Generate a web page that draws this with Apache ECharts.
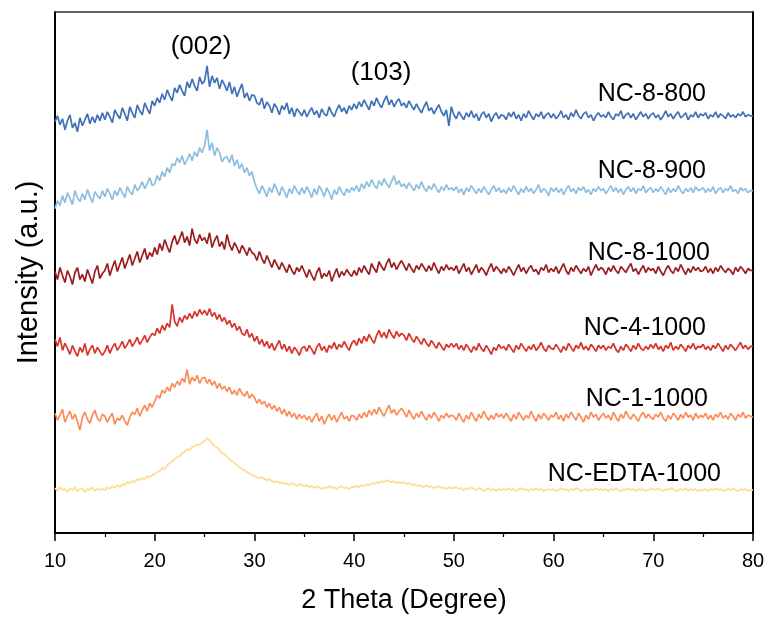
<!DOCTYPE html>
<html><head><meta charset="utf-8">
<script src="https://cdn.jsdelivr.net/npm/echarts@6/dist/echarts.min.js"></script>
<style>html,body{margin:0;padding:0;background:#fff}#c{width:769px;height:619px}</style>
</head><body><div id="c"></div>
<script>
// 2θ scan: start 10°, step 0.25°, 281 points to 80°
const thetaStart = 10, thetaStep = 0.25;
const xTicks = [10,20,30,40,50,60,70,80];
const seriesNames = ["NC-8-800","NC-8-900","NC-8-1000","NC-4-1000","NC-1-1000","NC-EDTA-1000"];
const peakLabels = ["(002)","(103)"];

const nc8_800 = [
412,418,409,415,404,413,419,406,411,402,416,408,414,420,410,417,411,419,413,421,
414,422,417,411,424,419,415,426,420,413,427,421,416,429,423,419,431,425,420,433,
428,436,431,440,434,444,438,433,446,441,449,443,438,452,446,455,448,443,457,450,
453,468,447,458,451,456,445,454,449,443,452,440,447,437,444,450,436,441,433,439,
438,431,429,436,425,432,428,421,430,426,419,428,424,431,420,426,417,425,422,418,
424,417,422,426,419,423,416,425,420,418,427,421,417,424,429,422,426,420,428,424,
430,425,432,427,434,429,424,433,428,436,430,426,433,438,429,434,427,432,435,428,
431,426,433,428,424,430,425,421,427,432,423,426,420,425,429,422,418,424,408,427,
419,415,422,418,414,421,417,423,416,420,413,419,422,416,420,412,418,421,415,419,
418,414,421,417,422,415,419,413,420,416,423,418,414,420,417,422,415,419,421,416,
420,415,418,423,416,419,414,421,417,424,418,415,420,422,416,419,413,418,421,417,
419,416,422,417,414,420,418,423,415,419,421,416,420,414,418,422,417,420,415,419,
421,416,419,414,418,423,417,420,415,419,422,416,418,421,414,419,417,422,416,420,
418,421,415,419,417,422,416,420,418,415,421,417,419,416,420,418,422,417,419,418,
418];

const nc8_900 = [
325,333,328,338,331,341,335,329,343,336,332,340,334,344,337,331,342,338,335,343,
337,345,340,334,343,338,346,341,336,347,342,339,349,343,346,352,345,350,356,348,
350,358,353,362,357,366,361,370,368,376,371,378,369,374,380,373,382,377,386,381,
388,404,383,391,378,386,381,372,376,377,371,379,368,374,365,370,361,366,358,362,
352,345,340,348,343,337,346,341,350,344,338,347,342,336,345,340,348,343,339,346,
340,347,342,336,345,339,348,343,337,346,341,334,344,339,347,342,338,345,341,346,
343,348,342,350,345,352,347,354,349,345,353,348,355,350,346,352,358,349,353,347,
350,345,351,347,343,349,345,352,346,342,348,344,350,345,341,347,343,349,344,346,
343,347,341,345,339,346,342,348,344,340,345,341,347,343,339,344,348,342,346,341,
344,340,346,342,348,343,339,345,341,347,342,345,340,344,349,341,345,343,338,346,
342,346,341,345,339,344,348,342,345,340,346,343,347,341,344,339,345,342,347,343,
345,340,344,348,342,346,341,345,339,344,347,342,346,340,345,343,348,341,344,346,
341,345,342,347,343,339,346,341,345,342,348,343,340,345,342,346,341,347,343,344,
346,341,345,342,347,340,344,346,341,345,343,348,342,344,340,346,343,345,341,343,
343];

const nc8_1000 = [
262,254,266,258,251,263,257,249,261,266,254,259,252,264,257,250,262,268,255,260,
263,270,258,266,273,262,269,276,265,272,279,268,275,282,271,278,285,274,281,277,
286,279,290,283,294,287,281,292,298,289,295,302,291,297,288,305,294,290,299,293,
296,290,301,286,293,298,287,292,284,299,289,283,291,286,280,288,284,278,286,281,
279,273,282,275,270,278,272,266,274,269,264,271,266,261,269,263,259,266,262,268,
262,256,264,258,253,261,266,255,260,257,263,252,259,265,256,262,258,264,260,257,
263,258,266,261,268,263,259,270,265,261,272,267,263,270,275,266,271,264,269,273,
268,263,270,265,261,268,264,270,266,262,268,263,271,265,260,267,263,269,264,266,
263,268,260,265,270,262,266,259,264,269,261,266,263,258,265,270,262,267,264,260,
265,261,267,263,258,264,269,262,266,260,265,268,262,264,259,266,263,269,261,265,
262,267,260,265,270,263,259,266,262,268,264,260,265,262,267,258,264,269,263,266,
264,259,266,262,268,263,260,267,264,261,266,270,262,265,259,264,268,261,266,263,
265,260,267,262,258,264,268,263,260,266,262,269,264,259,265,261,267,263,266,262,
263,267,261,265,260,266,262,268,264,261,265,263,259,266,262,267,264,260,265,263,
263];

const nc4_1000 = [
194,187,196,183,190,185,179,188,182,177,186,181,190,178,184,188,180,186,182,178,
182,188,180,186,190,183,187,192,185,189,194,187,191,196,189,193,198,191,196,200,
198,205,200,208,203,210,206,229,212,207,216,211,218,214,220,215,222,217,224,219,
223,218,225,217,221,214,219,212,216,209,213,206,210,203,207,200,198,204,196,200,
192,197,189,194,187,192,185,190,183,188,193,184,189,182,187,180,186,183,178,185,
187,182,188,184,179,186,190,183,187,181,188,185,191,184,189,186,192,187,183,190,
193,188,195,190,197,192,199,194,190,198,203,196,201,195,204,199,195,202,197,200,
198,193,200,195,191,197,193,189,195,190,187,193,189,185,191,187,183,189,186,190,
186,190,184,188,183,189,185,181,187,183,190,185,182,188,184,179,186,183,189,185,
187,183,189,185,181,188,184,190,186,182,187,184,189,183,186,191,185,182,188,185,
184,189,185,181,187,183,190,186,182,188,185,191,184,187,183,189,186,182,188,185,
188,183,187,185,190,184,181,187,183,189,186,182,188,184,190,185,183,187,184,189,
185,190,184,187,182,188,185,191,183,187,184,189,186,182,188,185,190,184,187,186,
189,184,187,183,188,185,190,186,182,188,184,189,186,183,187,191,185,188,184,187,
187];

const nc1_1000 = [
120,113,118,124,111,117,122,114,119,112,103,116,121,114,110,118,123,115,112,119,
117,111,116,120,109,115,113,118,112,108,116,121,119,125,117,123,128,122,130,126,
132,138,135,143,140,146,142,150,146,152,148,155,151,164,149,156,152,158,150,155,
156,150,154,148,152,145,150,144,147,142,146,139,143,138,145,140,137,142,135,139,
136,130,134,129,132,126,130,124,128,122,126,119,124,117,122,116,120,114,119,115,
118,113,117,111,116,120,112,117,109,115,119,113,118,111,116,121,114,117,112,118,
117,113,119,115,121,116,123,118,124,119,126,121,117,123,128,120,124,118,122,125,
121,116,123,118,114,120,116,122,117,113,119,115,121,117,112,118,115,120,116,118,
117,113,120,115,111,118,114,121,116,112,119,115,122,117,113,118,114,120,116,119,
115,120,116,112,119,114,121,117,113,118,115,122,116,112,119,114,120,117,113,118,
116,121,114,118,112,119,115,121,117,113,120,116,111,118,114,121,116,119,113,117,
120,115,118,113,121,116,112,119,115,122,117,114,119,116,112,118,121,115,119,116,
114,119,116,121,115,112,118,114,120,117,113,119,115,121,116,118,113,120,115,118,
116,120,114,118,113,119,116,121,115,118,114,120,117,113,119,116,121,115,118,117,
116];

const ncEDTA_1000 = [
45,42,46,43,44,41,45,43,46,42,44,45,41,44,43,46,42,45,43,44,
43,46,44,47,45,48,46,49,48,51,50,52,51,54,53,55,54,57,56,58,
59,61,62,65,64,68,70,72,74,76,77,80,81,84,83,86,87,89,88,91,
92,95,93,90,87,86,83,80,79,76,74,72,70,68,66,64,63,61,60,58,
57,56,55,56,54,53,54,52,51,52,50,51,49,50,48,50,49,47,49,48,
47,48,46,47,45,47,46,44,46,45,47,45,46,44,46,47,45,46,44,46,
46,47,46,48,47,49,48,50,49,51,50,52,51,53,52,51,52,50,51,50,
51,49,50,48,49,47,48,47,46,48,46,47,45,46,47,45,46,44,46,45,
45,46,44,45,43,45,44,46,44,43,45,44,42,44,45,43,44,42,44,43,
44,43,45,43,44,42,44,45,43,44,42,44,43,45,43,44,42,43,44,43,
44,42,43,45,43,44,42,44,43,45,44,42,43,44,42,44,43,45,43,44,
43,44,42,44,43,45,43,42,44,43,45,43,44,42,44,43,44,42,43,44,
44,43,45,43,42,44,43,45,44,42,43,44,43,45,42,44,43,44,42,43,
43,44,42,44,43,45,43,44,42,43,44,43,45,43,42,44,43,44,42,43,
43];

const seriesValues = [nc8_800, nc8_900, nc8_1000, nc4_1000, nc1_1000, ncEDTA_1000];
const colors = ["#4270B8","#8EBEDD","#9B1D1F","#D8342B","#FC8C57","#FDDE90"];

function toPairs(vals){ return vals.map((v,i)=>[thetaStart + i*thetaStep, v]); }

const chart = echarts.init(document.getElementById('c'), null, {renderer:'canvas'});
const FONT = 'Arial, "Liberation Sans", sans-serif';

const labelPos = [[706,94],[706,171],[710,253],[706,328],[708,399],[721,474]];
const peakPos = [[201,47],[381,73]];

const graphics = [];
seriesNames.forEach((n,i)=>graphics.push({type:'text', x:labelPos[i][0], y:labelPos[i][1],
  style:{text:n, font:'25px '+FONT, fill:'#000', textAlign:'right', textVerticalAlign:'middle'}, z:100}));
peakLabels.forEach((n,i)=>graphics.push({type:'text', x:peakPos[i][0], y:peakPos[i][1],
  style:{text:n, font:'26px '+FONT, fill:'#000', textAlign:'center', textVerticalAlign:'middle'}, z:100}));

chart.setOption({
  animation:false,
  backgroundColor:'#fff',
  grid:{left:55, right:16, top:12, bottom:85, containLabel:false},
  xAxis:[{
    type:'value', min:10, max:80, interval:10, position:'bottom',
    name:'2 Theta (Degree)', nameLocation:'middle', nameGap:54,
    nameTextStyle:{fontSize:27, color:'#000', fontFamily:FONT},
    axisLine:{lineStyle:{color:'#000', width:2}},
    axisTick:{show:true, inside:false, length:8, lineStyle:{color:'#000', width:1.5}},
    minorTick:{show:true, splitNumber:2, length:4, lineStyle:{color:'#000', width:1.2}},
    axisLabel:{fontSize:20, color:'#000', margin:18, fontFamily:FONT},
    splitLine:{show:false}
  },{
    type:'value', min:10, max:80, position:'top',
    axisLine:{show:true, onZero:false, lineStyle:{color:'#333', width:1.5}},
    axisTick:{show:false}, axisLabel:{show:false}, splitLine:{show:false}
  }],
  yAxis:[{
    type:'value', min:0, max:522, position:'left',
    name:'Intensity (a.u.)', nameLocation:'middle', nameGap:12,
    nameTextStyle:{fontSize:29, color:'#000', fontFamily:FONT},
    axisLine:{show:true, lineStyle:{color:'#000', width:2}},
    axisTick:{show:false}, axisLabel:{show:false}, splitLine:{show:false}
  },{
    type:'value', min:0, max:522, position:'right',
    axisLine:{show:true, onZero:false, lineStyle:{color:'#000', width:2}},
    axisTick:{show:false}, axisLabel:{show:false}, splitLine:{show:false}
  }],
  series: seriesNames.map((n,i)=>({
    name:n, type:'line', data:toPairs(seriesValues[i]), showSymbol:false, symbol:'none',
    lineStyle:{color:colors[i], width:1.7}, itemStyle:{color:colors[i]}, z:2
  })),
  graphic: graphics
});
</script></body></html>
